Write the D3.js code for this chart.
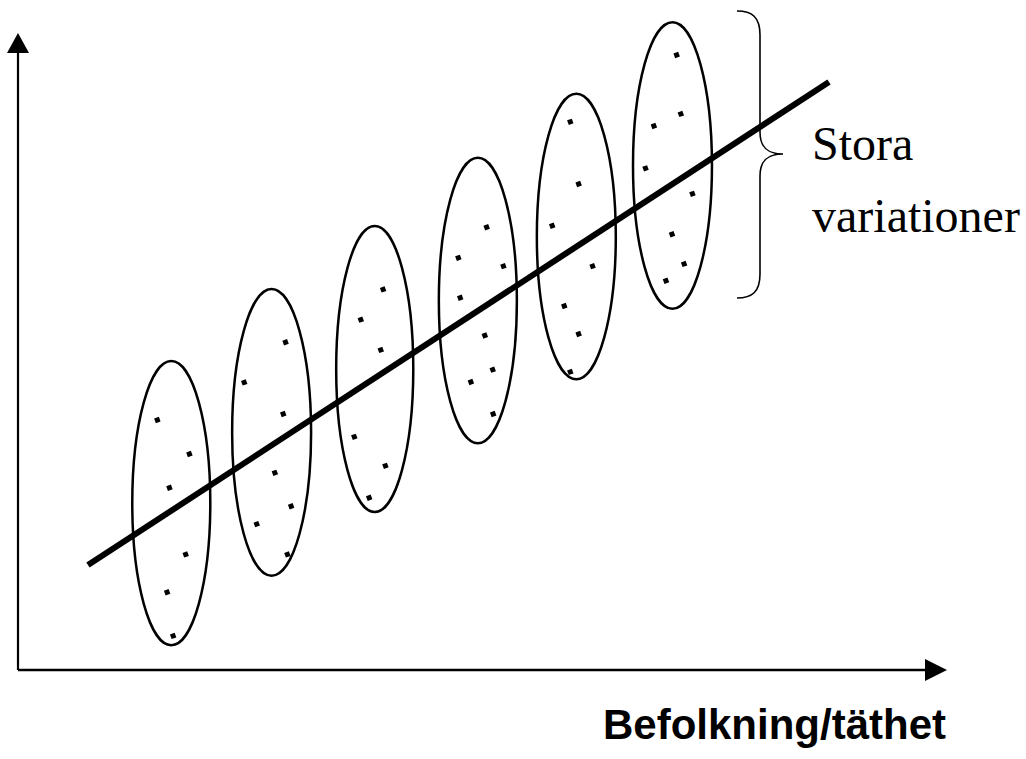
<!DOCTYPE html>
<html>
<head>
<meta charset="utf-8">
<script src="https://cdn.jsdelivr.net/npm/d3@7"></script>
<style>
  body { margin: 0; background: #fff; }
  svg { display: block; }
</style>
</head>
<body>
<div id="chart"></div>
<script>
// Groups (ellipses) in data units: centre and half-widths
var groupCx = [16.5, 27.3, 38.4, 49.5, 60.1, 70.45];
var groupCy = [26.2, 37.3, 47.25, 58.0, 68.05, 79.2];
var groupRx = [4.2, 4.25, 4.15, 4.2, 4.25, 4.25];
var groupRy = [22.3, 22.5, 22.45, 22.4, 22.4, 22.5];

// Points inside each group
var pointGroup = [0,0,0,0,0,0, 1,1,1,1,1,1,1, 2,2,2,2,2,2, 3,3,3,3,3,3,3,3, 4,4,4,4,4,4,4, 5,5,5,5,5,5,5,5];
var pointX = [15.0, 18.45, 16.3, 18.05, 16.05, 16.7,
              28.8, 24.35, 28.55, 27.65, 29.4, 25.7, 29.0,
              39.3, 36.9, 39.05, 36.2, 39.55, 37.8,
              50.45, 47.4, 52.25, 47.6, 50.25, 51.1, 48.75, 51.15,
              59.45, 60.35, 57.5, 61.85, 58.8, 60.35, 59.45,
              70.9, 71.35, 68.45, 67.55, 72.6, 70.4, 71.7, 69.75];
var pointY = [39.25, 33.9, 28.6, 18.15, 12.2, 5.35,
              51.45, 45.15, 40.2, 30.95, 25.7, 22.9, 18.15,
              59.75, 55.0, 50.25, 36.6, 32.05, 27.05,
              69.5, 64.7, 63.4, 58.45, 52.5, 47.15, 45.2, 40.2,
              86.05, 76.3, 69.75, 63.4, 57.15, 52.75, 46.8,
              96.55, 87.3, 85.4, 78.75, 74.75, 68.4, 63.75, 61.1];

// Trend line end points
var trendX = [7.53, 87.3];
var trendY = [16.48, 92.31];

var xLabel = "Befolkning/täthet";
var noteLines = ["Stora", "variationer"];

var width = 1026,
    height = 759;

var x = d3.scaleLinear().domain([0, 100]).range([18, 947]);
var y = d3.scaleLinear().domain([0, 100]).range([670, 33]);

var svg = d3.select("#chart").append("svg")
    .attr("width", width)
    .attr("height", height);

// Axes with arrow heads
svg.append("line")
    .attr("x1", x(0)).attr("y1", y(0))
    .attr("x2", x(0)).attr("y2", y(100) + 18)
    .attr("stroke", "#000").attr("stroke-width", 2.2);

svg.append("path")
    .attr("d", "M" + x(0) + "," + y(100) + "L" + (x(0) - 11) + "," + (y(100) + 20) + "L" + (x(0) + 11) + "," + (y(100) + 20) + "Z")
    .attr("fill", "#000");

svg.append("line")
    .attr("x1", x(0)).attr("y1", y(0))
    .attr("x2", x(100) - 20).attr("y2", y(0))
    .attr("stroke", "#000").attr("stroke-width", 2.4);

svg.append("path")
    .attr("d", "M" + x(100) + "," + y(0) + "L" + (x(100) - 22) + "," + (y(0) - 11) + "L" + (x(100) - 22) + "," + (y(0) + 11) + "Z")
    .attr("fill", "#000");

// Ellipses
svg.selectAll(".group")
    .data(d3.range(groupCx.length))
    .enter().append("ellipse")
    .attr("class", "group")
    .attr("cx", i => x(groupCx[i]))
    .attr("cy", i => y(groupCy[i]))
    .attr("rx", i => x(groupCx[i] + groupRx[i]) - x(groupCx[i]))
    .attr("ry", i => y(groupCy[i]) - y(groupCy[i] + groupRy[i]))
    .attr("fill", "none")
    .attr("stroke", "#000")
    .attr("stroke-width", 2.5);

// Points (small squares)
var ds = 5;
svg.selectAll(".pt")
    .data(d3.range(pointX.length))
    .enter().append("rect")
    .attr("class", "pt")
    .attr("x", -ds / 2).attr("y", -ds / 2)
    .attr("width", ds).attr("height", ds)
    .attr("transform", i => "translate(" + x(pointX[i]) + "," + y(pointY[i]) + ") rotate(-20)")
    .attr("fill", "#000");

// Trend line
svg.append("line")
    .attr("x1", x(trendX[0])).attr("y1", y(trendY[0]))
    .attr("x2", x(trendX[1])).attr("y2", y(trendY[1]))
    .attr("stroke", "#000")
    .attr("stroke-width", 6);

// Curly brace spanning the last group
var bx = 760, bTop = 11, bBot = 298, bMid = 154, bTip = 783;
svg.append("path")
    .attr("d",
        "M" + (bx - 23) + "," + bTop +
        "C" + (bx - 8) + "," + bTop + " " + bx + "," + (bTop + 6) + " " + bx + "," + (bTop + 24) +
        "L" + bx + "," + (bMid - 22) +
        "C" + bx + "," + (bMid - 6) + " " + (bx + 8) + "," + bMid + " " + bTip + "," + bMid +
        "C" + (bx + 8) + "," + bMid + " " + bx + "," + (bMid + 6) + " " + bx + "," + (bMid + 22) +
        "L" + bx + "," + (bBot - 24) +
        "C" + bx + "," + (bBot - 6) + " " + (bx - 8) + "," + bBot + " " + (bx - 23) + "," + bBot)
    .attr("fill", "none")
    .attr("stroke", "#000")
    .attr("stroke-width", 1.6);

// Note text
svg.selectAll(".note")
    .data(noteLines)
    .enter().append("text")
    .attr("class", "note")
    .attr("x", 812)
    .attr("y", (d, i) => 160 + i * 72)
    .attr("font-family", "'Liberation Serif', 'Times New Roman', serif")
    .attr("font-size", 48)
    .attr("fill", "#000")
    .text(d => d);

// Axis label
svg.append("text")
    .attr("x", 946)
    .attr("y", 739)
    .attr("text-anchor", "end")
    .attr("font-family", "'Liberation Sans', Arial, sans-serif")
    .attr("font-weight", "bold")
    .attr("font-size", 42)
    .attr("fill", "#000")
    .text(xLabel);
</script>
</body>
</html>
